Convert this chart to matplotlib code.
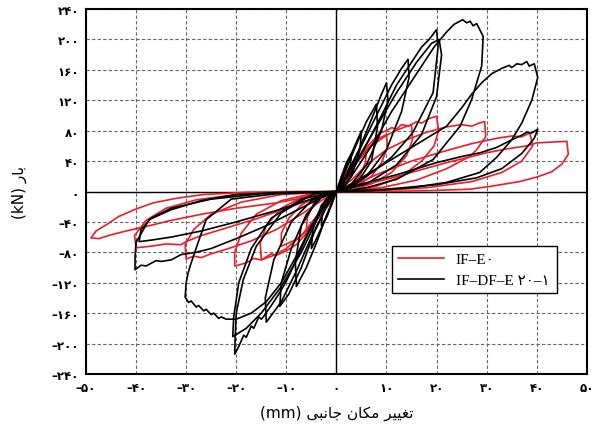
import matplotlib.pyplot as plt

# Persian digits for the tick labels
fa = str.maketrans('0123456789-', '۰۱۲۳۴۵۶۷۸۹–')

x_ticks = [-50, -40, -30, -20, -10, 0, 10, 20, 30, 40, 50]
y_ticks = [-240, -200, -160, -120, -80, -40, 0, 40, 80, 120, 160, 200, 240]

# IF-E0 cycles, displacement (mm) and load (kN)
e0_disp = [
    [0, 1, 2, 3, 2.8, 1.5, 0, -1, -2, -3, -2.8, -1.5, 0],
    [0, 1.5, 3, 4.5, 6, 5.8, 4.5, 2.5, 0, -1.5, -3, -4.5, -6, -5.8, -4.5, -2.5, 0],
    [0, 2, 4, 6, 8, 10, 10.2, 9, 7, 4, 1, 0, -2, -4, -6, -8, -11, -11, -9.5, -7, -4, -1, 0],
    [0, 2, 4, 7, 10, 12.5, 15, 15.2, 14, 11, 7, 3, 0, -2, -4, -7, -10, -12.5, -15, -15.2, -14, -11, -7, -3, 0],
    [0, 2, 4, 6, 8.7, 10, 11, 12, 13, 14.5, 16, 17, 18.5, 20, 20.4, 19.5, 17, 13, 8, 3, 0,
     -2, -4, -6, -8, -10, -12, -13, -15, -16.5, -18, -20.3, -20.3, -19, -16, -11, -5, 0],
    [0, 3, 6, 10, 14, 18, 22, 25, 27, 28.5, 29.6, 29.8, 28, 26.6, 22, 16, 9, 0,
     -3, -7, -12, -17, -22, -25, -27, -28.5, -30, -30.2, -28.5, -25, -19, -11, 0],
    [0, 4, 9, 15, 21, 27, 32, 35, 37, 38.6, 39.2, 37, 33, 27, 18, 8, 0,
     -4, -10, -16, -22, -27, -30, -31, -34, -37, -40, -40.3, -38, -34, -28, -20, -10, 0],
    [0, 5, 10, 16, 22, 27, 30, 34, 38, 40, 43, 46, 46.3, 45, 43, 40, 36.5, 31, 26.6, 18, 8, 0,
     -5, -12, -20, -27, -33, -38, -42, -45, -47.4, -49, -48, -45.5, -43.5, -40, -36.6, -32, -26.6, -18, -8, 0],
]
e0_force = [
    [0, 14, 26, 35, 22, 6, 0, -12, -22, -30, -18, -4, 0],
    [0, 18, 35, 47, 55, 38, 18, 5, 0, -15, -30, -42, -50, -34, -15, -4, 0],
    [0, 20, 40, 55, 68, 75, 58, 38, 20, 7, 1, 0, -16, -35, -52, -63, -72, -55, -35, -18, -6, -1, 0],
    [0, 18, 38, 60, 74, 82, 88, 68, 47, 25, 10, 2, 0, -15, -33, -58, -75, -84, -90, -68, -45, -22, -8, -1, 0],
    [0, 20, 40, 58, 77, 80, 84, 82, 88, 86, 92, 90, 96, 99, 80, 60, 40, 20, 7, 1, 0,
     -15, -35, -55, -70, -78, -84, -82, -90, -88, -94, -98, -80, -55, -30, -12, -3, 0],
    [0, 15, 35, 55, 68, 78, 85, 88, 86, 90, 92, 72, 55, 46, 30, 15, 5, 0,
     -12, -30, -50, -65, -76, -82, -87, -85, -89, -70, -50, -30, -14, -4, 0],
    [0, 10, 25, 40, 52, 63, 70, 73, 72, 77, 60, 40, 25, 13, 5, 1, 0,
     -8, -22, -36, -48, -58, -66, -70, -69, -72, -74, -58, -38, -22, -11, -4, -1, 0],
    [0, 8, 16, 27, 38, 46, 51, 56, 60, 64, 65, 66, 49, 36, 26, 19, 13, 7, 3, 1, 0, 0,
     -6, -15, -22, -30, -38, -46, -52, -57, -62, -61, -52, -42, -33, -23, -15, -9, -4, -1, 0, 0],
]

# IF-DF-E20-1 cycles
df_disp = [
    [0, 1, 2, 3, 2.8, 1.5, 0, -1, -2, -3, -2.8, -1.5, 0],
    [0, 1.5, 3, 4.2, 5, 4.7, 3, 1, 0, -1.5, -3, -4.2, -5, -4.7, -3, -1, 0],
    [0, 2, 4, 6, 8, 8.2, 7, 4, 1, 0, -2, -4, -6, -8, -8.2, -7, -4, -1, 0],
    [0, 2, 4.5, 7, 9, 10, 10.3, 9, 6, 3, 0,
     -2, -4.5, -7, -9.5, -11.3, -11, -9, -6, -3, 0],
    [0, 2, 5, 8, 11, 13, 14.3, 14.5, 13, 10, 6, 2, 0,
     -2, -5, -8, -11, -13, -14, -14.2, -12.5, -9, -5, -1, 0],
    [0, 3, 6, 9, 12, 15, 17, 18.5, 20, 20.3, 19.3, 15.2, 11, 8.7, 5, 2, 0,
     -2, -4, -6, -8.7, -10, -11.5, -13, -14.6, -15, -15.5, -16.5, -17, -18, -18.5, -19.5, -20.3,
     -20.2, -20, -18.6, -16, -11, -4.6, 0],
    [0, 4, 8, 12, 16, 19, 20.5, 21, 20, 17, 12, 6, 0,
     -3, -7, -11, -15, -18, -20.7, -20.5, -19.5, -17, -13, -7, 0],
    [0, 2, 5, 8, 11, 14, 17, 19.5, 22, 23.5, 25.2, 26, 26.7, 27.3, 28, 28.7, 29.3,
     29, 27, 24.7, 19.3, 12, 6, 2, 0,
     -2, -5, -8, -11, -14, -17, -20, -22, -23, -23.5, -24.5, -25, -26, -26.5, -27.5, -28,
     -29, -29.5, -30.2, -30, -29.6, -29, -27.5, -26, -21, -12, 0],
    [0, 3, 8, 13, 18, 22, 25, 27, 29, 31, 33, 34.5, 35, 36, 37, 38, 38.5, 39.5, 40.2,
     39, 37, 35, 32, 28.6, 22, 15, 7, 0,
     -3, -8, -14, -20, -25, -28, -31, -33, -35, -36, -38, -39, -40.2,
     -40.2, -40, -37.4, -33, -27, -20, -10, 0],
    [0, 5, 12, 20, 25, 28.7, 32, 35, 37, 38, 39, 40.2, 39.5, 37, 33, 28, 20, 10, 0,
     -5, -12, -20, -27, -33, -37, -39.4, -39, -37, -33, -25, -15, 0],
]
df_force = [
    [0, 20, 38, 50, 35, 10, 0, -18, -35, -45, -30, -8, 0],
    [0, 25, 50, 68, 80, 55, 20, 4, 0, -25, -48, -65, -75, -50, -18, -3, 0],
    [0, 30, 62, 92, 115, 85, 40, 10, 0, 0, -32, -68, -100, -125, -92, -45, -12, -1, 0],
    [0, 22, 55, 95, 128, 143, 120, 80, 35, 10, 0,
     -20, -55, -100, -135, -151, -120, -75, -30, -8, 0],
    [0, 20, 60, 100, 140, 162, 174, 150, 105, 55, 20, 4, 0,
     -20, -60, -105, -145, -163, -172, -140, -90, -40, -12, -1, 0],
    [0, 25, 62, 100, 140, 170, 190, 200, 213, 190, 130, 77, 45, 33, 15, 5, 0,
     -12, -35, -60, -100, -118, -135, -150, -165, -168, -165, -180, -177, -192, -189, -204, -214,
     -190, -160, -116, -72, -28, -3, 0],
    [0, 40, 85, 130, 170, 195, 200, 180, 125, 75, 35, 10, 0,
     -25, -80, -125, -160, -180, -191, -165, -120, -75, -35, -10, 0],
    [0, 10, 40, 70, 105, 135, 165, 190, 210, 220, 226, 222, 224, 218, 221, 212, 204,
     165, 121, 86, 42, 16, 5, 1, 0,
     -10, -45, -85, -120, -145, -160, -168, -168, -165, -167, -160, -162, -155, -157, -150, -152,
     -144, -146, -139, -120, -107, -94, -65, -37, -10, -3, 0],
    [0, 10, 30, 50, 70, 86, 110, 128, 143, 155, 162, 166, 163, 168, 167, 171, 165, 168, 150,
     120, 90, 68, 45, 25, 12, 5, 1, 0,
     -8, -25, -45, -62, -75, -80, -83, -90, -92, -91, -98, -97, -103,
     -85, -67, -37, -24, -12, -4, -1, 0],
    [0, 10, 22, 38, 46, 51, 58, 68, 74, 78, 77, 82, 70, 50, 30, 18, 9, 3, 0,
     -10, -25, -40, -52, -60, -64, -66, -50, -35, -22, -10, -3, 0],
]

plt.rcParams['font.family'] = ['Liberation Serif', 'DejaVu Sans']

fig = plt.figure(figsize=(5.97, 4.39), dpi=100)
ax = fig.add_axes([0.144, 0.146, 0.839, 0.831])

for i in range(len(e0_disp)):
    ax.plot(e0_disp[i], e0_force[i], color='#ee1c25', lw=1.2,
            label='IF–E۰' if i == 0 else None)
for i in range(len(df_disp)):
    ax.plot(df_disp[i], df_force[i], color='black', lw=1.2,
            label='IF–DF–E ۲۰–۱' if i == 0 else None)

ax.axhline(0, color='black', lw=1.0, zorder=1)
ax.axvline(0, color='black', lw=1.0, zorder=1)

ax.set_xlim(-50, 50)
ax.set_ylim(-240, 240)
ax.set_xticks(x_ticks)
ax.set_yticks(y_ticks)
ax.set_xticklabels([str(v).translate(fa) for v in x_ticks], family='DejaVu Sans',
                   fontsize=8.5, fontweight='bold')
ax.set_yticklabels([str(v).translate(fa) for v in y_ticks], family='DejaVu Sans',
                   fontsize=8.5, fontweight='bold')
ax.tick_params(length=0, pad=5)
ax.grid(True, color='#666666', lw=0.8, linestyle=(0, (3, 2)))
ax.set_axisbelow(True)
for s in ax.spines.values():
    s.set_linewidth(1.5)

# Persian labels written in visual (left-to-right) order with Arabic presentation forms
ax.set_xlabel('(mm) \uFEF0\uFE92\uFEE7\uFE8E\uFE9F \uFEE5\uFE8E\uFEDC\uFEE3 \uFEAE\uFEF4\uFEF4\uFED0\uFE97',
              family=['DejaVu Sans'], fontsize=11, labelpad=8)
ax.set_ylabel('(kN) \uFEAD\uFE8E\uFE91', family=['DejaVu Sans'], fontsize=11, labelpad=18)

ax.legend(loc='lower left', bbox_to_anchor=(0.595, 0.2, 0.36, 0.156), mode='expand',
          fancybox=False, edgecolor='black', framealpha=1, fontsize=11,
          handlelength=3.0, borderpad=0.4, labelspacing=0.5)

fig.savefig('out.png', dpi=100)
